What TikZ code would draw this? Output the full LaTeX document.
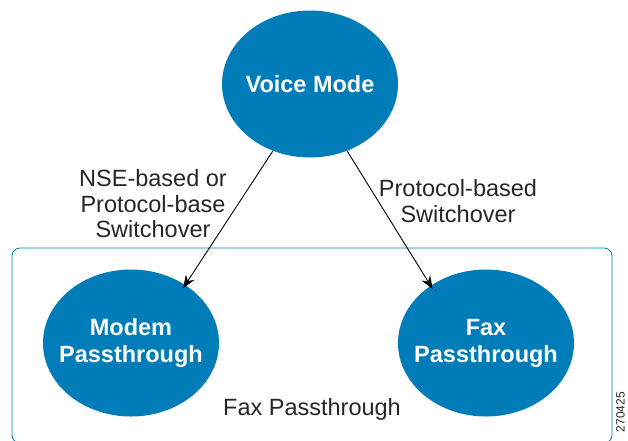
\documentclass[tikz,border=0pt]{standalone}
\usepackage{fontspec}
\setmainfont{Liberation Sans}
\usepackage{tikz}
\usetikzlibrary{shapes.geometric, arrows.meta, positioning, calc}
\definecolor{ciscoblue}{RGB}{0,125,185}
\tikzstyle{mode} = [ellipse, inner sep=-25pt, minimum width=176pt, minimum height=147pt, fill=ciscoblue, text=white, font=\fontsize{23.5}{27}\selectfont\bfseries, align=center]
\tikzstyle{label} = [font=\fontsize{23.5}{25.5}\selectfont, align=center, text=black!85]
\tikzstyle{frame} = [rectangle, rounded corners=8pt, draw=ciscoblue, line width=0.8pt]
\tikzstyle{arrow} = [line width=0.9pt, ->, >={Stealth[length=13pt,width=10pt]}]

\begin{document}
\begin{tikzpicture}[x=1pt,y=-1pt]
\useasboundingbox (0,0) rectangle (628,440);

\node (passbox) [frame, minimum width=600pt, minimum height=195pt] at (312,345.5) {};
\node (voice) [mode, minimum height=147pt] at (310,84) {Voice Mode};
\node (modem) [mode] at (131,343) {Modem\\Passthrough};
\node (fax) [mode] at (486,343) {Fax\\Passthrough};

\node (nselbl) [label] at (153,204) {NSE-based or\\Protocol-base\\Switchover};
\node (protolbl) [label] at (458,201) {Protocol-based\\Switchover};
\node (boxlbl) [label] at (312,409) {Fax Passthrough};
\node (figid) [font=\fontsize{12}{14}\selectfont, text=black!85, inner sep=0pt, rotate=90] at (620.5,412) {270425};

\draw [arrow, shorten >=-4pt] (voice.241) -- (modem.47);
\draw [arrow, shorten >=-4pt] (voice.299) -- (fax.134);

\end{tikzpicture}
\end{document}
